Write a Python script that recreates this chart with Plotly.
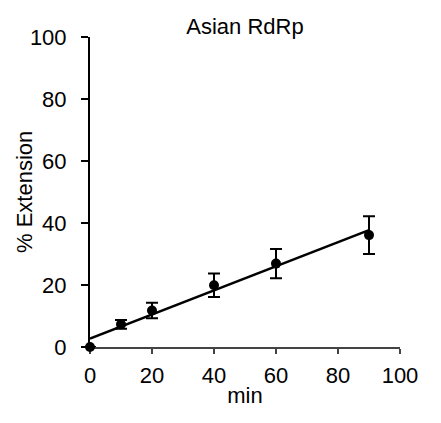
import numpy as np
import plotly.graph_objects as go

minutes = [0, 10, 20, 40, 60, 90]
extension = [0, 7.3, 11.8, 19.9, 26.9, 36.1]
err = [0, 1.4, 2.5, 3.8, 4.7, 6.1]
x_ticks = [0, 20, 40, 60, 80, 100]
y_ticks = [0, 20, 40, 60, 80, 100]

slope, intercept = np.polyfit(minutes, extension, 1)
fit_x = [min(minutes), max(minutes)]
fit_y = [intercept + slope * v for v in fit_x]

font = "Liberation Sans, Arial, sans-serif"

fig = go.Figure()
fig.add_trace(go.Scatter(x=fit_x, y=fit_y, mode="lines",
                         line=dict(color="black", width=2.5),
                         showlegend=False, cliponaxis=False))
fig.add_trace(go.Scatter(x=minutes, y=extension, mode="markers",
                         marker=dict(color="black", size=10),
                         error_y=dict(type="data", array=err, visible=True,
                                      color="black", thickness=2, width=6),
                         showlegend=False, cliponaxis=False))

fig.update_layout(
    width=441, height=423,
    margin=dict(l=90, r=41, t=37, b=76),
    paper_bgcolor="white", plot_bgcolor="white",
    font=dict(family=font, size=22, color="black"),
    title=dict(text="Asian RdRp", x=0.5, xanchor="center", xref="paper",
               y=1 - 26 / 423, yanchor="middle",
               font=dict(family=font, size=22, color="black")),
    xaxis=dict(range=[0, 100], tickvals=x_ticks, showgrid=False, zeroline=False,
               showline=True, linecolor="#444", linewidth=2,
               ticks="outside", ticklen=5, tickwidth=2, tickcolor="#444",
               ticklabelstandoff=3, layer="below traces",
               title=dict(text="min", standoff=0, font=dict(size=22)),
               tickfont=dict(size=22)),
    yaxis=dict(range=[0, 100], tickvals=y_ticks, showgrid=False, zeroline=False,
               showline=True, linecolor="black", linewidth=2,
               ticks="outside", ticklen=7, tickwidth=2, tickcolor="black",
               ticklabelstandoff=10, layer="below traces",
               tickfont=dict(size=22)),
    annotations=[dict(text="% Extension", textangle=-90, showarrow=False,
                      xref="paper", yref="paper",
                      x=-(90 - 24) / 310, y=0.5,
                      xanchor="center", yanchor="middle",
                      font=dict(family=font, size=22, color="black"))],
)

fig.write_html("out.html")
